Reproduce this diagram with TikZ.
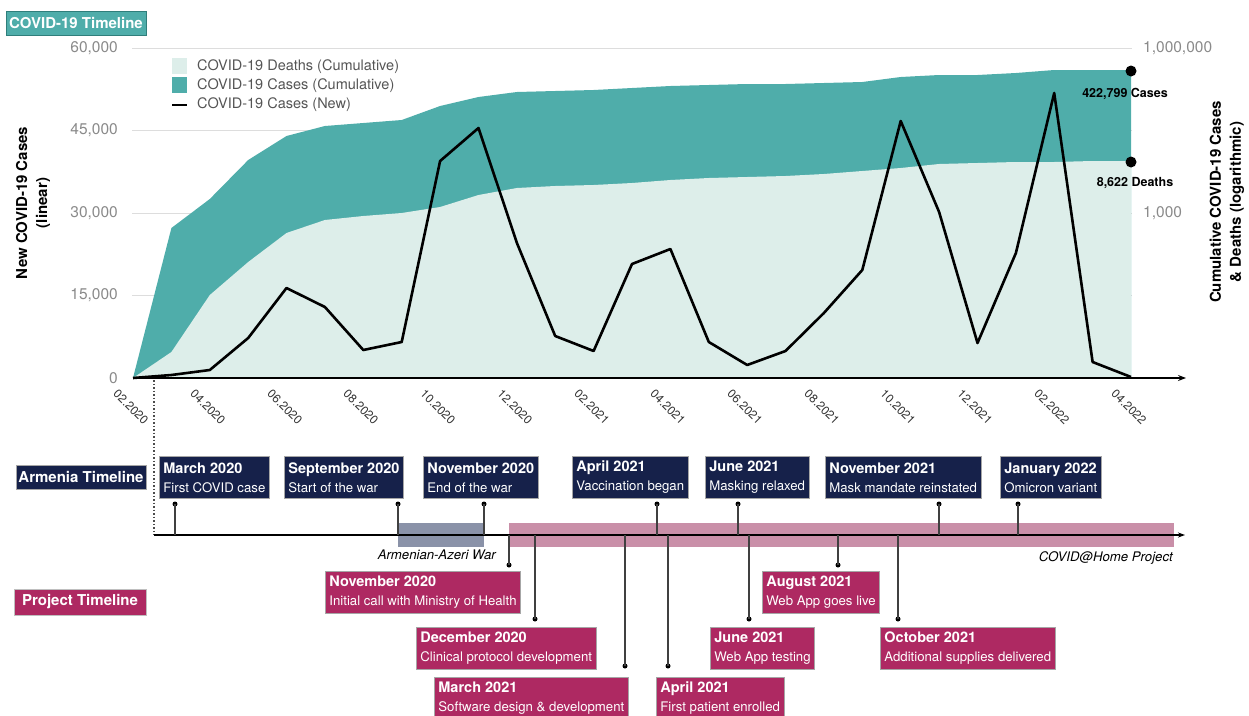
\documentclass[tikz,border=0pt]{standalone}
\usepackage{fontspec}
\setmainfont{TeX Gyre Heros}
\usetikzlibrary{arrows.meta}
\definecolor{teal1}{HTML}{4FADAA}
\definecolor{tealdark}{HTML}{2F7E7B}
\definecolor{mint}{HTML}{DDEEEA}
\definecolor{navy}{HTML}{16214A}
\definecolor{magenta1}{HTML}{AE2962}
\definecolor{pinkband}{HTML}{C98FA8}
\definecolor{warband}{HTML}{8A92A8}
\definecolor{gridc}{HTML}{DDDDDD}
\definecolor{tickc}{HTML}{8A8A8A}
\definecolor{legc}{HTML}{555555}
\tikzset{
  evbox/.style={draw=black!35, line width=0.8pt, fill=navy, text=white, anchor=north west, align=left,
    inner xsep=4pt, inner ysep=0pt, minimum height=42pt, font=\fontsize{13.2}{19}\selectfont},
  projbox/.style={evbox, fill=magenta1},
  tlabel/.style={line width=0.8pt, text=white, inner sep=0pt, font=\bfseries\fontsize{15}{17}\selectfont},
  stemline/.style={line width=1.3pt, draw=black!75},
  sdot/.style={circle, fill=black, inner sep=0pt, minimum size=5pt},
  bigdot/.style={circle, fill=black, inner sep=0pt, minimum size=11pt},
  ytick/.style={text=tickc, font=\fontsize{15.5}{17}\selectfont, inner sep=0pt},
  xtick/.style={text=black!80, rotate=-45, font=\fontsize{12}{14}\selectfont, inner sep=0pt},
  legtext/.style={text=legc, anchor=west, inner sep=0pt, font=\fontsize{14.5}{16}\selectfont},
  axlabel/.style={rotate=90, align=center, font=\bfseries\fontsize{15}{20}\selectfont, inner sep=0pt},
  note/.style={font=\itshape\fontsize{13.2}{15}\selectfont, inner sep=0pt}
}
\begin{document}
\begin{tikzpicture}[x=1pt,y=-1pt]
\useasboundingbox (0,0) rectangle (1249,715);

% ---------- chart ----------
\foreach \gy in {48,130.5,213,295.5} \draw[gridc, line width=1pt] (132,\gy) -- (1132,\gy);

\fill[teal1] (133,378) -- (171.4,228) -- (209.8,199) -- (248.2,160) -- (286.5,136) -- (324.9,126)
 -- (363.3,123) -- (401.7,120) -- (440.1,106) -- (478.5,97) -- (516.9,92) -- (555.2,91) -- (593.6,90)
 -- (632.0,88) -- (670.4,86) -- (708.8,85) -- (747.2,84) -- (785.5,84) -- (823.9,83) -- (862.3,82)
 -- (900.7,77) -- (939.1,75) -- (977.5,75) -- (1015.9,73) -- (1054.2,70) -- (1092.6,70) -- (1131,70)
 -- (1131,378) -- cycle;
\fill[mint] (133,378) -- (171.4,352) -- (209.8,295) -- (248.2,262) -- (286.5,233) -- (324.9,220)
 -- (363.3,216) -- (401.7,213) -- (440.1,207) -- (478.5,195) -- (516.9,188) -- (555.2,186) -- (593.6,185)
 -- (632.0,183) -- (670.4,180) -- (708.8,178) -- (747.2,177) -- (785.5,176) -- (823.9,174) -- (862.3,171)
 -- (900.7,168) -- (939.1,164) -- (977.5,163) -- (1015.9,162) -- (1054.2,162) -- (1092.6,161) -- (1131,161)
 -- (1131,378) -- cycle;
\draw[line width=2.6pt, line join=round] (133,378) -- (171.4,375) -- (209.8,370) -- (248.2,338) -- (286.5,288)
 -- (324.9,307) -- (363.3,350) -- (401.7,342) -- (440.1,161) -- (478.5,128) -- (516.9,243) -- (555.2,336)
 -- (593.6,351) -- (632.0,264) -- (670.4,249) -- (708.8,342) -- (747.2,365) -- (785.5,351) -- (823.9,313)
 -- (862.3,270) -- (900.7,121) -- (939.1,212) -- (977.5,343) -- (1015.9,253) -- (1054.2,93) -- (1092.6,362)
 -- (1131,377);

\coordinate (xo) at (133,378);
\coordinate (xe) at (1186,378);
\draw[line width=1.3pt, -{Stealth[length=8pt,width=6pt]}] (xo) -- (xe);

% y tick labels
\node[ytick, anchor=east] (y0) at (118,378) {0};
\node[ytick, anchor=east] (y1) at (118,295.5) {15,000};
\node[ytick, anchor=east] (y2) at (118,213) {30,000};
\node[ytick, anchor=east] (y3) at (118,130.5) {45,000};
\node[ytick, anchor=east] (y4) at (118,48) {60,000};
\node[ytick, anchor=west] (r1) at (1143,48) {1,000,000};
\node[ytick, anchor=west] (r2) at (1143,213) {1,000};

% x tick labels
\node[xtick] (m1) at (131,407) {02.2020};
\node[xtick] (m2) at (208,407) {04.2020};
\node[xtick] (m3) at (285,407) {06.2020};
\node[xtick] (m4) at (361,407) {08.2020};
\node[xtick] (m5) at (438,407) {10.2020};
\node[xtick] (m6) at (515,407) {12.2020};
\node[xtick] (m7) at (592,407) {02.2021};
\node[xtick] (m8) at (668,407) {04.2021};
\node[xtick] (m9) at (745,407) {06.2021};
\node[xtick] (m10) at (822,407) {08.2021};
\node[xtick] (m11) at (898,407) {10.2021};
\node[xtick] (m12) at (975,407) {12.2021};
\node[xtick] (m13) at (1052,407) {02.2022};
\node[xtick] (m14) at (1129,407) {04.2022};

% axis labels
\node[axlabel] (ylab) at (33,203) {New COVID-19 Cases\\(linear)};
\node[axlabel] (rlab) at (1227,202) {Cumulative COVID-19 Cases\\\& Deaths (logarithmic)};

% legend
\fill[mint] (172,58) rectangle (187,74);
\fill[teal1] (172,77) rectangle (187,93);
\draw[line width=2.4pt] (172,105) -- (187,105);
\node[legtext] (l1) at (197,67) {COVID-19 Deaths (Cumulative)};
\node[legtext] (l2) at (197,86) {COVID-19 Cases (Cumulative)};
\node[legtext] (l3) at (197,105) {COVID-19 Cases (New)};

% end markers
\node[bigdot] (cdot) at (1131,71) {};
\node[bigdot] (ddot) at (1131,162) {};
\node[font=\bfseries\fontsize{12.5}{14}\selectfont, inner sep=0pt] (clab) at (1125,94) {422,799 Cases};
\node[font=\bfseries\fontsize{12.5}{14}\selectfont, inner sep=0pt] (dlab) at (1135,183) {8,622 Deaths};

% section titles
\node[tlabel, draw=tealdark, fill=teal1, minimum width=140pt, minimum height=24pt] (t1) at (76,23) {COVID-19 Timeline};
\node[tlabel, draw=black!35, fill=navy, minimum width=130pt, minimum height=24pt] (t2) at (81,477) {Armenia Timeline};
\node[tlabel, draw=black!25, fill=magenta1, minimum width=132pt, minimum height=26pt] (t3) at (80,602) {Project Timeline};

% ---------- timeline ----------
\fill[pinkband] (509,523) rectangle (1174,547);
\fill[warband] (398,523) rectangle (484,547);
\coordinate (tl0) at (154,535);
\coordinate (tle) at (1185,535);
\coordinate (dtop) at (154,380);
\draw[black!70, line width=1.1pt, dash pattern=on 1.5pt off 2pt] (dtop) -- (tl0);
\draw[line width=1.1pt, -{Stealth[length=7pt,width=5pt]}] (tl0) -- (tle);
\node[note, anchor=east] (war) at (496,555) {Armenian-Azeri War};
\node[note, anchor=east] (proj) at (1173,558) {COVID@Home Project};

% Armenia events
\foreach \n/\bx/\sx/\ta/\tb in {
  1/159/175/March 2020/First COVID case,
  2/284/398/September 2020/Start of the war,
  3/423/484/November 2020/End of the war,
  4/572/657/April 2021/Vaccination began,
  5/705/738/June 2021/Masking relaxed,
  6/825/939/November 2021/Mask mandate reinstated,
  7/1000/1018/January 2022/Omicron variant}{
  \node[evbox] (a\n) at (\bx,456) {{\bfseries\fontsize{14.5}{19}\selectfont \ta}\\\tb};
  \node[sdot] (ad\n) at (\sx,504) {};
  \coordinate (at\n) at (\sx,535);
  \draw[stemline] (ad\n.center) -- (at\n);
}

% Project events
\foreach \n/\bx/\by/\sx/\dy/\ta/\tb in {
  1/325/571/509/565/November 2020/Initial call with Ministry of Health,
  2/416/627/535/619/December 2020/Clinical protocol development,
  3/434/677/625/666/March 2021/Software design \& development,
  4/656/677/668/666/April 2021/First patient enrolled,
  5/710/627/749/619/June 2021/Web App testing,
  6/762/571/838/565/August 2021/Web App goes live,
  7/880/627/898/619/October 2021/Additional supplies delivered}{
  \node[projbox] (p\n) at (\bx,\by) {{\bfseries\fontsize{14.5}{19}\selectfont \ta}\\\tb};
  \node[sdot] (pd\n) at (\sx,\dy) {};
  \coordinate (pt\n) at (\sx,535);
  \draw[stemline] (pt\n) -- (pd\n.center);
}
\end{tikzpicture}
\end{document}
